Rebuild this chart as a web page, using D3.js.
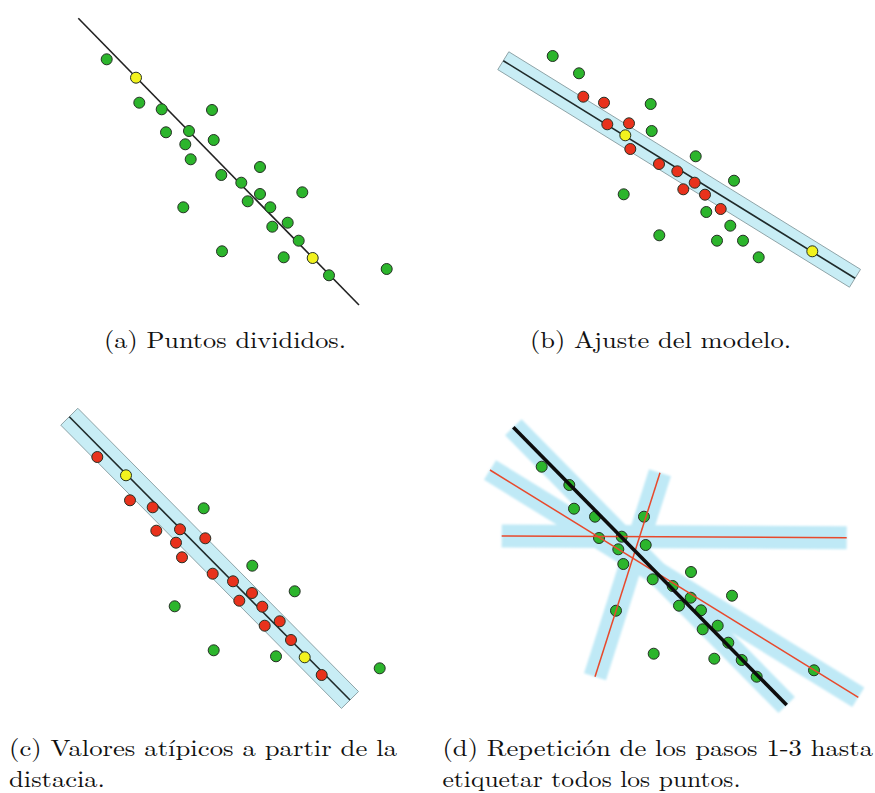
<!DOCTYPE html>
<html>
<head>
<meta charset="utf-8">
<script src="https://cdn.jsdelivr.net/npm/d3@7/dist/d3.min.js"></script>
<style>
  html, body { margin: 0; padding: 0; background: #ffffff; }
  svg { display: block; }
  .caption { font-family: "Latin Modern Roman", "CMU Serif", "Liberation Serif", serif; font-size: 23.5px; fill: #111; }
</style>
</head>
<body>
<svg id="chart" width="875" height="793"></svg>
<script>
// RANSAC steps: point sets and fitted lines for each of the four panels.
// Point kind: "S" = sampled pair, "I" = inlier, "O" = unlabeled / outlier.

// (a) split points, line through the two sampled points
const pointsA = [
  [46.7, 59.3, "O"], [76, 77.7, "S"], [79.3, 102.7, "O"], [101.7, 109.3, "O"],
  [152, 110, "O"], [106, 132.3, "O"], [129, 131, "O"], [153.7, 140, "O"],
  [125.3, 144.3, "O"], [130.7, 159.3, "O"], [200, 167, "O"], [161.3, 175, "O"],
  [181.3, 182.7, "O"], [242.3, 192.3, "O"], [200, 194, "O"], [187.7, 201.3, "O"],
  [210.3, 207.3, "O"], [123.3, 207.3, "O"], [227.7, 222.7, "O"], [212.3, 226.7, "O"],
  [238.7, 240.7, "O"], [162, 251.3, "O"], [223.7, 257.3, "O"], [252.7, 258, "S"],
  [269, 275.3, "O"], [326.7, 269, "O"]
];
const lineA = [[18.3, 18.3], [299, 305]];

// (b) model fit with its tolerance band
const pointsB = [
  [72.7, 26, "O"], [99, 43.3, "O"], [103.3, 66.7, "I"], [124, 72.7, "I"],
  [170.7, 74, "O"], [127.3, 94.3, "I"], [149, 93.3, "I"], [171.7, 101, "O"],
  [145.3, 105.3, "S"], [150.3, 119, "I"], [215.7, 126.3, "O"], [179, 134, "I"],
  [197.3, 141.3, "I"], [214.7, 152.7, "I"], [254, 150.7, "O"], [203.3, 159.3, "I"],
  [225, 164.7, "I"], [143.7, 164.3, "O"], [240.7, 179, "I"], [226.3, 182, "O"],
  [250.3, 195.7, "O"], [179.3, 205.3, "O"], [237, 210.7, "O"], [263, 210.7, "O"],
  [278.7, 227.3, "O"], [332.3, 221.3, "S"]
];
const lineB = [[23.3, 30.7], [375, 248.3]];

// (c) outliers by distance to the fitted line
const pointsC = [
  [57.3, 57, "I"], [86, 75.3, "S"], [90, 100.3, "I"], [112.7, 107.3, "I"],
  [163.7, 108.3, "O"], [116.3, 130.7, "I"], [140, 129.3, "I"], [136, 142.7, "I"],
  [165.3, 138.3, "I"], [142, 157.3, "I"], [212.3, 165.7, "O"], [172.7, 173.7, "I"],
  [193, 181.3, "I"], [212, 193, "I"], [254.7, 191.3, "O"], [199.3, 200.7, "I"],
  [134.7, 206.3, "O"], [222.3, 206.7, "I"], [239.7, 221.3, "I"], [224.7, 225.7, "I"],
  [251, 240, "I"], [173.7, 250.3, "O"], [236, 256.3, "O"], [264.7, 257.3, "S"],
  [339.7, 268.3, "O"], [281.7, 275, "I"]
];
const lineC = [[29.3, 16.7], [310, 300]];

// (d) repeated fits until every point is labelled
const pointsD = [
  [61.7, 56.7, "O"], [89.3, 75, "O"], [94, 98.7, "O"], [115, 106.7, "O"],
  [164, 106.7, "O"], [119, 128, "O"], [141.7, 126.7, "O"], [138.3, 139.3, "O"],
  [165.7, 135, "O"], [143.3, 154, "O"], [211, 162, "O"], [172.7, 169.3, "O"],
  [192.7, 176, "O"], [210.7, 187.7, "O"], [252, 185.7, "O"], [199, 195.7, "O"],
  [136, 200.7, "O"], [221, 200.3, "O"], [237.7, 215.7, "O"], [222.7, 219.3, "O"],
  [248.3, 232.7, "O"], [173.7, 243.7, "O"], [234.3, 248.7, "O"], [261.7, 250, "O"],
  [334, 260.3, "O"], [276.7, 266.7, "O"]
];
const bestLineD = [[33.3, 17.3], [306.7, 295]];
const otherLinesD = [
  [[10, 60], [378.3, 287.3]],
  [[21.7, 126], [366.7, 127.7]],
  [[180, 62.7], [115, 266.7]]
];

const captions = {
  a: ["(a) Puntos divididos."],
  b: ["(b) Ajuste del modelo."],
  c: ["(c) Valores atípicos a partir de la", "distacia."],
  d: ["(d) Repetición de los pasos 1-3 hasta", "etiquetar todos los puntos."]
};

// ---------- drawing ----------
const svg = d3.select("#chart");
const fillOf = { S: "#f2f21e", I: "#e8321c", O: "#2cb52c" };

const defs = svg.append("defs");
defs.append("filter").attr("id", "soft").attr("x", "-10%").attr("y", "-10%")
  .attr("width", "120%").attr("height", "120%")
  .append("feGaussianBlur").attr("stdDeviation", 1.3);

function panelScales(ox, oy) {
  return {
    x: d3.scaleLinear().domain([0, 400]).range([ox, ox + 400]),
    y: d3.scaleLinear().domain([0, 320]).range([oy, oy + 320])
  };
}

function bandPolygon(s, seg, half) {
  const p1 = [s.x(seg[0][0]), s.y(seg[0][1])];
  const p2 = [s.x(seg[1][0]), s.y(seg[1][1])];
  const dx = p2[0] - p1[0], dy = p2[1] - p1[1];
  const len = Math.hypot(dx, dy);
  const nx = -dy / len * half, ny = dx / len * half;
  return [
    [p1[0] + nx, p1[1] + ny], [p2[0] + nx, p2[1] + ny],
    [p2[0] - nx, p2[1] - ny], [p1[0] - nx, p1[1] - ny]
  ];
}

function drawSegment(g, s, seg, color, width) {
  g.append("line")
    .attr("x1", s.x(seg[0][0])).attr("y1", s.y(seg[0][1]))
    .attr("x2", s.x(seg[1][0])).attr("y2", s.y(seg[1][1]))
    .attr("stroke", color).attr("stroke-width", width);
}

function drawPoints(g, s, pts) {
  g.selectAll("circle.pt").data(pts).join("circle")
    .attr("class", "pt")
    .attr("cx", d => s.x(d[0])).attr("cy", d => s.y(d[1]))
    .attr("r", 5.5)
    .attr("fill", d => fillOf[d[2]])
    .attr("stroke", "#243024").attr("stroke-width", 1);
}

function drawBandPanel(ox, oy, pts, seg, half) {
  const s = panelScales(ox, oy);
  const g = svg.append("g");
  g.append("path")
    .attr("d", d3.line()(bandPolygon(s, seg, half)) + "Z")
    .attr("fill", "#c8edf5").attr("stroke", "#8fa4a8").attr("stroke-width", 1);
  drawSegment(g, s, seg, "#1f2a2a", 1.6);
  drawPoints(g, s, pts);
}

// (a)
{
  const s = panelScales(60, 0);
  const g = svg.append("g");
  drawSegment(g, s, lineA, "#222", 1.6);
  drawPoints(g, s, pointsA);
}
// (b)
drawBandPanel(480, 30, pointsB, lineB, 10.5);
// (c)
drawBandPanel(40, 400, pointsC, lineC, 12);
// (d)
{
  const s = panelScales(480, 410);
  const g = svg.append("g");
  const bands = g.append("g").attr("filter", "url(#soft)");
  [bestLineD, ...otherLinesD].forEach(seg => {
    bands.append("path")
      .attr("d", d3.line()(bandPolygon(s, seg, 11.5)) + "Z")
      .attr("fill", "#bfe9f6");
  });
  drawPoints(g, s, pointsD);
  otherLinesD.forEach(seg => drawSegment(g, s, seg, "#e8492c", 1.5));
  drawSegment(g, s, bestLineD, "#0d0d0d", 3.6);
}

// captions, each line fitted to its typeset width
const captionLayout = [
  { key: "a", x: 104, y: 347.5, w: [242] },
  { key: "b", x: 530, y: 347.5, w: [261] },
  { key: "c", x: 9, y: 755.5, w: [388, 96] },
  { key: "d", x: 442.5, y: 755.5, w: [430.5, 298] }
];
captionLayout.forEach(c => {
  captions[c.key].forEach((txt, i) => {
    svg.append("text").attr("class", "caption")
      .attr("x", c.x).attr("y", c.y + i * 31.8)
      .attr("textLength", c.w[i]).attr("lengthAdjust", "spacingAndGlyphs")
      .text(txt);
  });
});
</script>
</body>
</html>
